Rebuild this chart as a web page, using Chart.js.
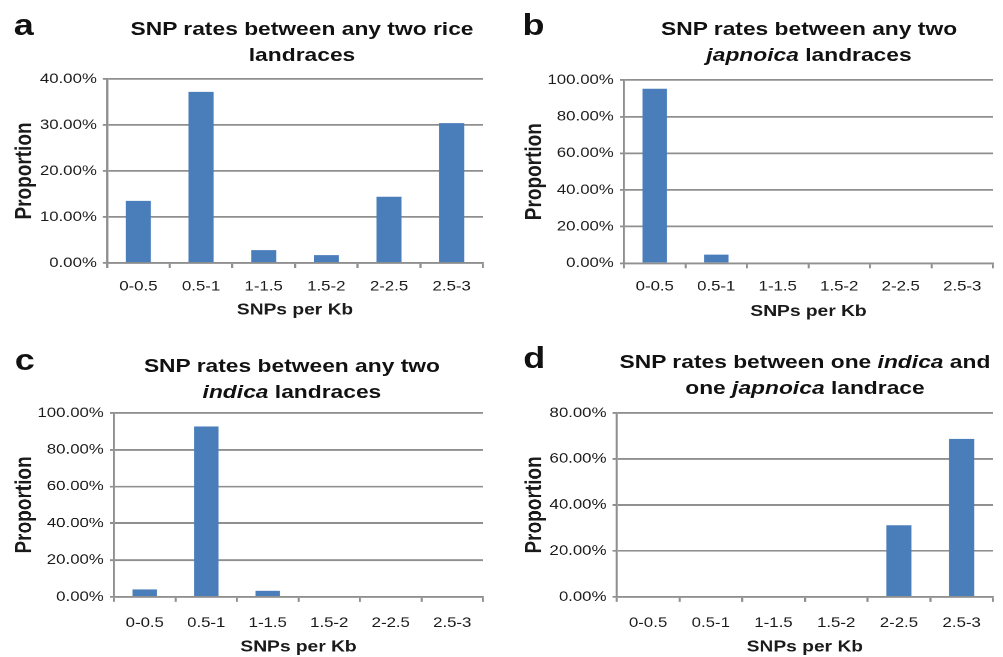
<!DOCTYPE html>
<html>
<head>
<meta charset="utf-8">
<title>SNP rates</title>
<script src="https://cdn.jsdelivr.net/npm/chart.js@4.4.0/dist/chart.umd.min.js"></script>
<style>
  html, body { margin: 0; padding: 0; background: #fff; overflow: hidden; }
  /* the source figure is stretched sideways, so the whole page is drawn narrow and scaled */
  #page { position: relative; width: 836px; height: 657px; transform: scaleX(1.2); transform-origin: 0 0;
          font-family: "Liberation Sans", Arial, Helvetica, sans-serif; color: #111; }
  .box { position: absolute; }
  .letter { position: absolute; font-size: 30px; font-weight: bold; line-height: 30px; }
  .title { position: absolute; width: 360px; text-align: center; font-size: 19px; font-weight: bold;
           line-height: 26px; white-space: nowrap; }
</style>
</head>
<body>
<div id="page">
  <div class="box"><canvas id="chartA"></canvas></div>
  <div class="box"><canvas id="chartB"></canvas></div>
  <div class="box"><canvas id="chartC"></canvas></div>
  <div class="box"><canvas id="chartD"></canvas></div>

  <div class="letter" style="left:11.5px; top:9.6px">a</div>
  <div class="title" style="left:71.7px; top:16.4px">SNP rates between any two rice<br>landraces</div>

  <div class="letter" style="left:435.5px; top:9.6px">b</div>
  <div class="title" style="left:494.2px; top:16.4px">SNP rates between any two<br><i>japnoica</i> landraces</div>

  <div class="letter" style="left:12.3px; top:344.6px">c</div>
  <div class="title" style="left:63.3px; top:353.4px">SNP rates between any two<br><i>indica</i> landraces</div>

  <div class="letter" style="left:436px; top:342.6px">d</div>
  <div class="title" style="left:490.8px; top:349.4px">SNP rates between one <i>indica</i> and<br>one <i>japnoica</i> landrace</div>
</div>
<script>
//Data
const categories = ['0-0.5', '0.5-1', '1-1.5', '1.5-2', '2-2.5', '2.5-3'];
const anyTwoRice = [13.5, 37.2, 2.8, 1.7, 14.4, 30.4];
const twoJaponica = [95.2, 4.7, 0, 0, 0, 0];
const twoIndica = [4.0, 92.7, 3.3, 0, 0, 0];
const indicaVsJaponica = [0, 0, 0, 0, 31.1, 68.7];
const yMaxA = 40, yStepA = 10;
const yMaxB = 100, yStepB = 20;
const yMaxC = 100, yStepC = 20;
const yMaxD = 80, yStepD = 20;
const xTitle = 'SNPs per Kb';
const yTitle = 'Proportion';

//Styles
const barColor = '#4A7EBB';
const gridColor = '#8f8f8f';
const textColor = '#1a1a1a';
const family = '"Liberation Sans", Arial, Helvetica, sans-serif';

//Where each plot sits (page coords before the sideways stretch)
const panels = [
    { id: 'chartA', values: anyTwoRice, yMax: yMaxA, yStep: yStepA,
      canvas: { left: 0, top: 60, width: 420, height: 262 },
      area: { left: 89.2, right: 402.5, top: 79, bottom: 263 }, xBottom: 319.6, tickPad: 10 },
    { id: 'chartB', values: twoJaponica, yMax: yMaxB, yStep: yStepB,
      canvas: { left: 425, top: 61, width: 410, height: 262 },
      area: { left: 520, right: 827.5, top: 80, bottom: 263.3 }, xBottom: 321.3, tickPad: 10 },
    { id: 'chartC', values: twoIndica, yMax: yMaxC, yStep: yStepC,
      canvas: { left: 0, top: 394.3, width: 420, height: 262.7 },
      area: { left: 95, right: 402.5, top: 413.3, bottom: 596.7 }, xBottom: 656.3, tickPad: 13 },
    { id: 'chartD', values: indicaVsJaponica, yMax: yMaxD, yStep: yStepD,
      canvas: { left: 425, top: 394.3, width: 410, height: 262.7 },
      area: { left: 513.9, right: 827.5, top: 413.3, bottom: 596.7 }, xBottom: 656.5, tickPad: 13 },
];

function drawPanel(p) {
    const cv = document.getElementById(p.id);
    const box = cv.parentNode;
    box.style.left = p.canvas.left + 'px';
    box.style.top = p.canvas.top + 'px';
    box.style.width = p.canvas.width + 'px';
    box.style.height = p.canvas.height + 'px';

    new Chart(cv, {
        type: 'bar',
        data: {
            labels: categories,
            datasets: [{
                data: p.values,
                backgroundColor: barColor,
                borderWidth: 0,
                barPercentage: 0.4,
                categoryPercentage: 1,
            }],
        },
        options: {
            responsive: true,
            maintainAspectRatio: false,
            animation: false,
            devicePixelRatio: 2,
            layout: {
                padding: {
                    top: p.area.top - p.canvas.top,
                    left: 0,
                    right: p.canvas.left + p.canvas.width - p.area.right,
                    bottom: p.canvas.top + p.canvas.height - p.xBottom,
                },
            },
            plugins: {
                legend: { display: false },
                tooltip: { enabled: false },
            },
            scales: {
                x: {
                    afterFit: (s) => { s.height = p.xBottom - p.area.bottom; },
                    grid: { drawOnChartArea: false, drawTicks: true, tickLength: 5, color: gridColor, lineWidth: 1.8 },
                    border: { display: true, color: gridColor, width: 1.8 },
                    ticks: { color: textColor, font: { family: family, size: 14 }, padding: p.tickPad, maxRotation: 0, autoSkip: false },
                    title: { display: true, text: xTitle, color: textColor, font: { family: family, size: 16, weight: 'bold' }, padding: 0 },
                },
                y: {
                    min: 0,
                    max: p.yMax,
                    afterFit: (s) => { s.width = p.area.left - p.canvas.left; },
                    grid: { color: gridColor, lineWidth: 1.8, tickLength: 3.5 },
                    border: { display: true, color: gridColor, width: 1.8 },
                    ticks: {
                        stepSize: p.yStep,
                        padding: 5,
                        color: textColor,
                        font: { family: family, size: 14 },
                        callback: (v) => v.toFixed(2) + '%',
                    },
                    title: { display: true, text: yTitle, color: textColor, font: { family: family, size: 19, weight: 'bold' }, padding: { top: 9.5, bottom: 0 } },
                },
            },
        },
    });
}

panels.forEach(drawPanel);
</script>
</body>
</html>
